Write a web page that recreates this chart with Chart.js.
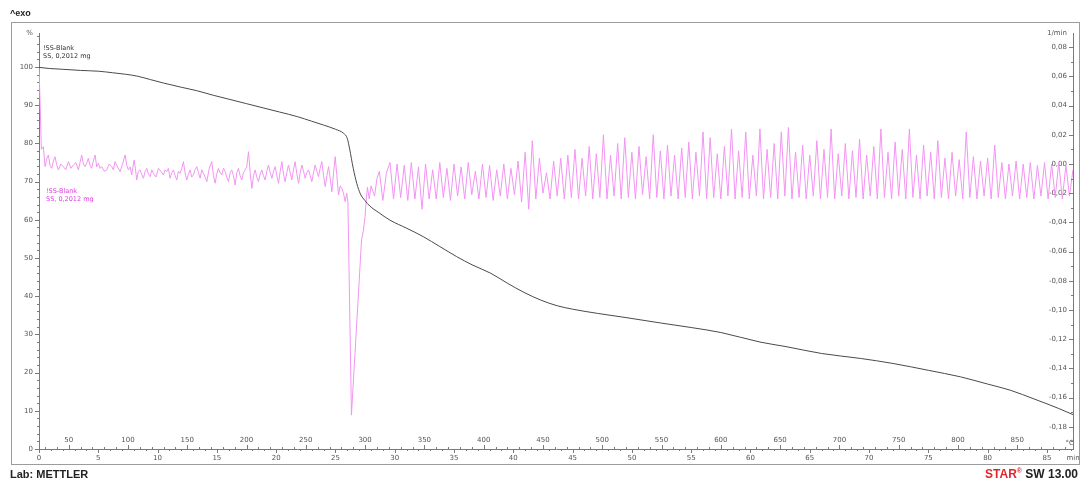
<!DOCTYPE html>
<html>
<head>
<meta charset="utf-8">
<script src="https://cdn.jsdelivr.net/npm/chart.js@4.4.1/dist/chart.umd.min.js"></script>
<style>
  html, body { margin: 0; padding: 0; background: #fff; }
  body { width: 1086px; height: 481px; position: relative; overflow: hidden; font-family: "Liberation Sans", Arial, sans-serif; }
  #frame { position: absolute; left: 11px; top: 22px; width: 1069px; height: 443px; border: 1px solid #9c9c9c; box-sizing: border-box; }
  #plot { position: absolute; left: 0; top: 0; }
  .lbl { position: absolute; white-space: nowrap; }
  #exo { left: 10px; top: 8px; font-size: 9px; font-weight: bold; color: #222; }
  .legend { font-family: "DejaVu Sans", sans-serif; font-size: 6.5px; line-height: 8px; }
  #legTga { left: 43px; top: 44px; color: #333; }
  #legDtg { left: 46px; top: 187px; color: #e23fe2; }
  #lab { left: 10px; top: 468px; font-size: 11px; font-weight: bold; color: #222; }
  #star { right: 8px; top: 467px; font-size: 12px; font-weight: bold; color: #222; }
  #star .red { color: #e3262b; }
  #star sup { font-size: 7px; color: #e3262b; }
</style>
</head>
<body>
<div id="frame"></div>
<canvas id="plot" width="1086" height="481"></canvas>
<div class="lbl" id="exo">^exo</div>
<div class="lbl legend" id="legTga">!SS-Blank<br>SS, 0,2012 mg</div>
<div class="lbl legend" id="legDtg">!SS-Blank<br>SS, 0,2012 mg</div>
<div class="lbl" id="lab">Lab: METTLER</div>
<div class="lbl" id="star"><span class="red">STAR</span><sup>®</sup> SW 13.00</div>
<script>
// ── Data: time in min, mass in %, mass-loss rate in 1/min ──
const tgaCurve = [
  [0.0, 99.9], [0.9, 99.6], [2.0, 99.4], [3.5, 99.1], [5.0, 98.9], [6.2, 98.5],
  [7.3, 98.1], [8.3, 97.6], [9.4, 96.7], [10.5, 95.8], [12.0, 94.7], [13.3, 93.8],
  [14.7, 92.6], [16.1, 91.5], [17.5, 90.4], [18.9, 89.3], [20.3, 88.2], [21.8, 87.0],
  [23.0, 85.8], [24.0, 84.8], [25.0, 83.7], [25.7, 82.6], [26.0, 81.3], [26.2, 78.5],
  [26.5, 73.5], [26.8, 69.5], [27.1, 66.8], [27.5, 65.0], [27.9, 63.6], [28.6, 62.0],
  [29.6, 59.9], [31.0, 57.8], [32.4, 55.6], [33.8, 53.0], [35.2, 50.4], [36.6, 48.1],
  [38.1, 46.0], [39.5, 43.4], [40.9, 41.0], [42.3, 39.0], [43.7, 37.5], [45.0, 36.6],
  [47.1, 35.5], [49.5, 34.4], [52.4, 33.0], [55.0, 31.8], [57.5, 30.5], [60.8, 28.0],
  [63.0, 26.8], [66.0, 25.0], [69.3, 23.7], [72.0, 22.4], [75.0, 20.6], [77.7, 18.9],
  [80.0, 17.0], [81.9, 15.4], [84.0, 13.0], [86.0, 10.6], [87.2, 9.0]
];

const dtgStart = [
  [0.0, 0.066], [0.1, 0.040], [0.2, 0.010], [0.37, 0.0119], [0.51, -0.0018], [0.65, 0.0035],
  [0.79, 0.0062], [0.93, -0.0010], [1.07, -0.0030], [1.21, 0.0020], [1.35, 0.0050], [1.49, -0.0005],
  [1.63, -0.0041], [1.84, 0.0000], [2.05, -0.0018], [2.26, -0.0040], [2.48, 0.0016], [2.69, -0.0030],
  [2.90, -0.0007], [3.11, 0.0010], [3.32, -0.0041], [3.46, 0.0010], [3.60, 0.0062], [3.74, 0.0000],
  [3.88, -0.0018], [4.02, 0.0005], [4.16, 0.0039], [4.30, -0.0010], [4.44, -0.0030], [4.58, 0.0020],
  [4.73, 0.0062], [4.87, -0.0020], [5.01, 0.0005], [5.15, -0.0030], [5.29, -0.0018], [5.50, -0.0050],
  [5.71, -0.0041], [5.92, 0.0000], [6.13, -0.0018], [6.27, -0.0040], [6.41, 0.0016], [6.62, -0.0020],
  [6.84, -0.0053], [7.05, 0.0000], [7.26, 0.0062], [7.40, -0.0010], [7.54, -0.0041], [7.68, -0.0020],
  [7.82, -0.0075], [8.02, 0.0027], [8.13, -0.0030], [8.24, -0.0110], [8.38, -0.0050], [8.52, -0.0041],
  [8.66, -0.0070], [8.81, -0.0098], [8.95, -0.0050], [9.09, -0.0030], [9.23, -0.0070], [9.37, -0.0087],
  [9.51, -0.0040], [9.65, -0.0064], [9.86, -0.0090], [10.07, -0.0030], [10.28, -0.0050], [10.49, -0.0075],
  [10.63, -0.0040], [10.77, -0.0053], [10.91, -0.0030], [11.05, -0.0098], [11.20, -0.0060], [11.34, -0.0041],
  [11.48, -0.0080], [11.62, -0.0110], [11.76, -0.0050], [11.90, -0.0064], [12.04, -0.0030], [12.18, 0.0016],
  [12.32, -0.0060], [12.46, -0.0110], [12.60, -0.0070], [12.74, -0.0041], [12.88, -0.0090], [13.02, -0.0075],
  [13.16, -0.0040], [13.31, -0.0018], [13.45, -0.0060], [13.59, -0.0098], [13.73, -0.0040], [13.87, -0.0064],
  [14.01, -0.0090], [14.15, -0.0121], [14.36, -0.0030], [14.57, 0.0016], [14.71, -0.0080], [14.85, -0.0132],
  [14.99, -0.0070], [15.13, -0.0030], [15.28, -0.0060], [15.42, -0.0075], [15.56, -0.0030], [15.70, -0.0053],
  [15.84, -0.0090], [15.98, -0.0121], [16.12, -0.0060], [16.26, -0.0041], [16.40, -0.0080], [16.54, -0.0144],
  [16.68, -0.0060], [16.82, -0.0030], [16.96, -0.0080], [17.10, -0.0110], [17.24, -0.0060], [17.38, -0.0041],
  [17.52, -0.0020], [17.67, 0.0084], [17.81, -0.0060], [17.95, -0.0167], [18.09, -0.0080], [18.23, -0.0041],
  [18.37, -0.0090], [18.51, -0.0121], [18.65, -0.0070], [18.79, -0.0041], [18.93, -0.0080], [19.07, -0.0110],
  [19.21, -0.0050], [19.35, -0.0007], [19.50, -0.0060], [19.64, -0.0098], [19.78, -0.0050], [19.92, -0.0018],
  [20.06, -0.0080], [20.20, -0.0132], [20.34, -0.0050], [20.48, 0.0016], [20.62, -0.0070], [20.76, -0.0121],
  [20.90, -0.0060], [21.04, -0.0007], [21.18, -0.0060], [21.32, -0.0110], [21.46, -0.0040], [21.60, 0.0016],
  [21.75, -0.0070], [21.89, -0.0132], [22.03, -0.0060], [22.17, -0.0007], [22.31, -0.0050], [22.45, -0.0098],
  [22.59, -0.0060], [22.73, -0.0041], [22.87, -0.0080], [23.01, -0.0121], [23.15, -0.0060], [23.29, -0.0007],
  [23.43, -0.0050], [23.57, -0.0087], [23.71, -0.0030], [23.85, 0.0016], [24.00, -0.0080], [24.14, -0.0155],
  [24.28, -0.0080], [24.42, -0.0018], [24.56, -0.0100], [24.70, -0.0190], [24.84, -0.0060], [24.98, 0.0050],
  [25.12, -0.0080], [25.26, -0.0212], [25.40, -0.0150], [25.54, -0.0167], [25.68, -0.0200], [25.82, -0.0258]
];

const dtgDip = [
  [25.95, -0.020], [26.05, -0.026], [26.35, -0.172], [27.2, -0.052], [27.35, -0.046],
  [27.5, -0.036], [27.6, -0.024], [27.7, -0.016], [27.85, -0.024], [28.0, -0.015]
];

const dtgMid = [
  [28.3, -0.022], [28.5, -0.010], [28.7, -0.005], [29.0, -0.025], [29.3, -0.006], [29.6, 0.001],
  [29.9, -0.024], [30.2, 0.000], [30.5, -0.023], [30.8, -0.001], [31.1, -0.025], [31.4, 0.001],
  [31.7, -0.024], [32.0, -0.002], [32.3, -0.031], [32.6, 0.000], [32.9, -0.024], [33.2, -0.004],
  [33.5, -0.024], [33.8, 0.001], [34.1, -0.023], [34.4, -0.003], [34.7, -0.025], [35.0, 0.000],
  [35.3, -0.022], [35.6, -0.002], [35.9, -0.024], [36.2, 0.001], [36.5, -0.021], [36.8, -0.005],
  [37.1, -0.024], [37.4, 0.000], [37.7, -0.023], [38.0, -0.001], [38.3, -0.025], [38.6, -0.004],
  [38.9, -0.022], [39.2, 0.000], [39.5, -0.024], [39.8, -0.003], [40.1, -0.021], [40.4, 0.002],
  [40.7, -0.026], [41.0, 0.008], [41.3, -0.031], [41.6, 0.016], [41.9, -0.024], [42.2, 0.004],
  [42.5, -0.020], [42.8, -0.006], [43.1, -0.024], [43.4, 0.002], [43.7, -0.022], [44.0, 0.004]
];

const dtgLate = [
  [44.3, -0.024], [44.6, 0.006], [44.9, -0.023], [45.2, 0.010], [45.5, -0.024], [45.8, 0.004],
  [46.1, -0.022], [46.4, 0.012], [46.7, -0.024], [47.0, 0.007], [47.3, -0.023], [47.6, 0.020],
  [47.9, -0.024], [48.2, 0.006], [48.5, -0.022], [48.8, 0.014], [49.1, -0.024], [49.4, 0.018],
  [49.7, -0.023], [50.0, 0.008], [50.3, -0.024], [50.6, 0.012], [50.9, -0.021], [51.2, 0.005],
  [51.5, -0.024], [51.8, 0.020], [52.1, -0.023], [52.4, 0.009], [52.7, -0.024], [53.0, 0.013],
  [53.3, -0.022], [53.6, 0.006], [53.9, -0.024], [54.2, 0.011], [54.5, -0.023], [54.8, 0.015],
  [55.1, -0.024], [55.4, 0.008], [55.7, -0.022], [56.0, 0.022], [56.3, -0.024], [56.6, 0.018],
  [56.9, -0.023], [57.2, 0.007], [57.5, -0.024], [57.8, 0.012], [58.1, -0.022], [58.4, 0.024],
  [58.7, -0.024], [59.0, 0.009], [59.3, -0.023], [59.6, 0.022], [59.9, -0.024], [60.2, 0.006],
  [60.5, -0.022], [60.8, 0.024], [61.1, -0.024], [61.4, 0.010], [61.7, -0.023], [62.0, 0.014],
  [62.3, -0.024], [62.6, 0.022], [62.9, -0.022], [63.2, 0.025], [63.5, -0.024], [63.8, 0.008],
  [64.1, -0.023], [64.4, 0.013], [64.7, -0.024], [65.0, 0.006], [65.3, -0.022], [65.6, 0.016],
  [65.9, -0.024], [66.2, 0.010], [66.5, -0.023], [66.8, 0.024], [67.1, -0.024], [67.4, 0.007],
  [67.7, -0.022], [68.0, 0.014], [68.3, -0.024], [68.6, 0.009], [68.9, -0.023], [69.2, 0.017],
  [69.5, -0.024], [69.8, 0.006], [70.1, -0.022], [70.4, 0.012], [70.7, -0.024], [71.0, 0.024],
  [71.3, -0.023], [71.6, 0.008], [71.9, -0.024], [72.2, 0.015], [72.5, -0.022], [72.8, 0.010],
  [73.1, -0.024], [73.4, 0.024], [73.7, -0.023], [74.0, 0.006], [74.3, -0.024], [74.6, 0.013],
  [74.9, -0.022], [75.2, 0.008], [75.5, -0.024], [75.8, 0.016], [76.1, -0.023], [76.4, 0.004],
  [76.7, -0.024], [77.0, 0.008], [77.3, -0.022], [77.6, 0.003], [77.9, -0.024], [78.2, 0.022],
  [78.5, -0.023], [78.8, 0.005], [79.1, -0.024], [79.4, 0.002], [79.7, -0.022], [80.0, 0.004],
  [80.3, -0.024], [80.6, 0.013], [80.9, -0.023], [81.2, 0.001], [81.5, -0.024], [81.8, 0.000],
  [82.1, -0.022], [82.4, 0.002], [82.7, -0.024], [83.0, 0.000], [83.3, -0.023], [83.6, 0.001],
  [83.9, -0.024], [84.2, -0.001], [84.5, -0.022], [84.8, 0.001], [85.1, -0.024], [85.4, 0.000],
  [85.7, -0.023], [86.0, 0.001], [86.3, -0.024], [86.6, -0.001], [86.9, -0.022], [87.2, -0.004]
];

// temperature labels along the time axis (heating at 10 K/min from 25 °C)
const tempLabels = [50, 100, 150, 200, 250, 300, 350, 400, 450, 500, 550, 600, 650, 700, 750, 800, 850];
const tStart = 25;
const heatRate = 10;

const timeMax = 87.2;
const massMin = 0, massMax = 108.9;
const rateMin = -0.1952, rateMax = 0.0897;

const toXY = pts => pts.map(([x, y]) => ({ x, y }));
const dtgAll = [...dtgStart, ...dtgDip, ...dtgMid, ...dtgLate];

const tickFont = { family: 'DejaVu Sans', size: 7 };
const tickColor = '#555';
const axisColor = '#7a7a7a';

// ── Small tick marks and the temperature scale ──
const axisMarks = {
  id: 'axisMarks',
  afterDraw(chart) {
    const { ctx, chartArea: a, scales: { x, xT, y, y2 } } = chart;
    ctx.save();
    ctx.strokeStyle = axisColor;
    ctx.lineWidth = 1;
    ctx.beginPath();
    // time: below the line, longer every 5 min
    for (let t = 0; t <= timeMax; t += 1) {
      const px = Math.round(x.getPixelForValue(t)) + 0.5;
      ctx.moveTo(px, a.bottom);
      ctx.lineTo(px, a.bottom + (t % 5 === 0 ? 4 : 2));
    }
    // temperature: above the line, longer every 50 °C
    for (let T = 30; T <= xT.max; T += 10) {
      const px = Math.round(xT.getPixelForValue(T)) + 0.5;
      ctx.moveTo(px, a.bottom);
      ctx.lineTo(px, a.bottom - (T % 50 === 0 ? 4 : 2));
    }
    // mass %: outside, every 2 %
    for (let m = 0; m <= massMax; m += 2) {
      const py = Math.round(y.getPixelForValue(m)) + 0.5;
      ctx.moveTo(a.left, py);
      ctx.lineTo(a.left - (m % 10 === 0 ? 4 : 2), py);
    }
    // rate: inside, every 0.01
    for (let i = -19; i <= 8; i++) {
      const py = Math.round(y2.getPixelForValue(i / 100)) + 0.5;
      ctx.moveTo(a.right, py);
      ctx.lineTo(a.right - (i % 2 === 0 ? 4 : 2), py);
    }
    ctx.stroke();

    ctx.fillStyle = tickColor;
    ctx.font = '7px "DejaVu Sans"';
    ctx.textAlign = 'center';
    ctx.textBaseline = 'bottom';
    tempLabels.forEach(T => ctx.fillText(String(T), xT.getPixelForValue(T), a.bottom - 5));
    ctx.textAlign = 'right';
    ctx.fillText('°C', a.right + 1, a.bottom - 2);
    ctx.restore();
  }
};

new Chart(document.getElementById('plot'), {
  type: 'line',
  data: {
    datasets: [
      {
        label: 'TGA',
        data: toXY(tgaCurve),
        yAxisID: 'y',
        borderColor: '#4a4a4a',
        borderWidth: 1,
        pointRadius: 0,
        cubicInterpolationMode: 'monotone'
      },
      {
        label: 'DTG',
        data: toXY(dtgAll),
        yAxisID: 'y2',
        borderColor: '#f394f3',
        borderWidth: 1,
        pointRadius: 0,
        tension: 0
      }
    ]
  },
  options: {
    responsive: false,
    animation: false,
    parsing: false,
    layout: { padding: { top: 33, right: 13, left: 0, bottom: 0 } },
    plugins: { legend: { display: false }, tooltip: { enabled: false } },
    scales: {
      x: {
        type: 'linear',
        min: 0,
        max: timeMax,
        afterFit: s => { s.height = 32; },
        grid: { display: false, drawTicks: false },
        border: { display: true, color: axisColor },
        ticks: {
          stepSize: 5,
          padding: 5,
          color: tickColor,
          font: tickFont,
          maxRotation: 0,
          autoSkip: false,
          callback: v => (v === timeMax ? 'min' : (v % 5 === 0 ? String(v) : ''))
        }
      },
      xT: {
        type: 'linear',
        display: false,
        min: tStart,
        max: tStart + timeMax * heatRate
      },
      y: {
        position: 'left',
        min: massMin,
        max: massMax,
        afterFit: s => { s.width = 39; },
        grid: { display: false, drawTicks: false },
        border: { display: true, color: axisColor },
        ticks: {
          stepSize: 10,
          padding: 6,
          color: tickColor,
          font: tickFont,
          callback: v => (v === massMax ? '%' : (v % 10 === 0 ? String(v) : ''))
        }
      },
      y2: {
        position: 'right',
        min: rateMin,
        max: rateMax,
        afterFit: s => { s.width = 0; },
        grid: { display: false, drawTicks: false },
        border: { display: true, color: axisColor },
        ticks: {
          stepSize: 0.02,
          mirror: true,
          padding: -6,
          color: tickColor,
          font: tickFont,
          callback: v => {
            if (v === rateMax) return '1/min';
            if (v === rateMin) return '';
            return v.toFixed(2).replace('.', ',');
          }
        }
      }
    }
  },
  plugins: [axisMarks]
});
</script>
</body>
</html>
